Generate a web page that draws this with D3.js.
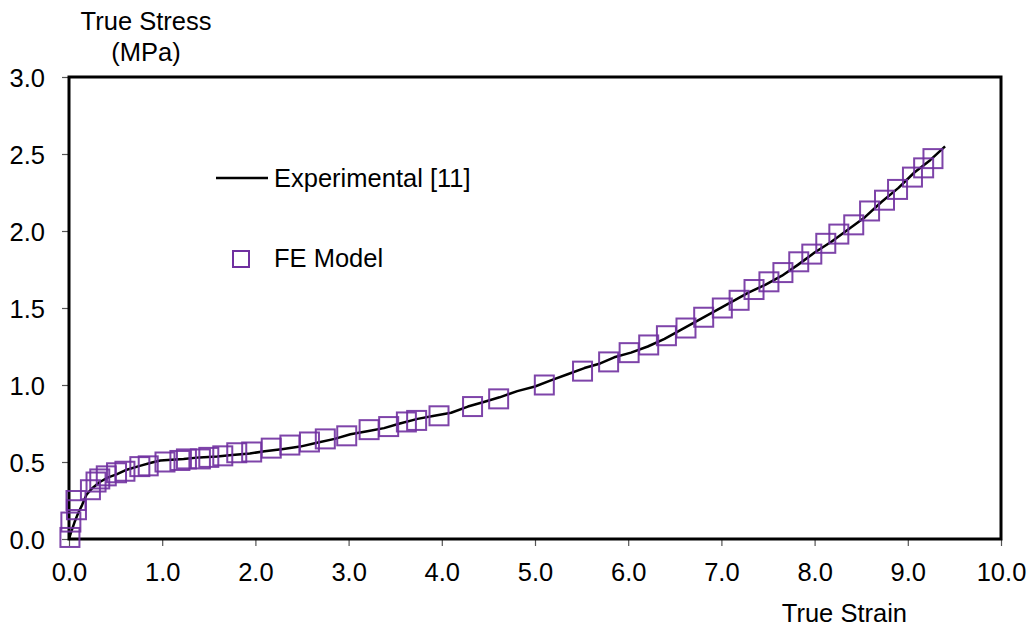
<!DOCTYPE html>
<html>
<head>
<meta charset="utf-8">
<script src="https://cdn.jsdelivr.net/npm/d3@7"></script>
<style>
  body { margin: 0; background: #fff; }
  text { font-family: "Liberation Sans", Arial, sans-serif; fill: #000; }
</style>
</head>
<body>
<div id="chart"></div>
<script>
// experimental curve (true strain, true stress)
var expStrain = [0, 0.02, 0.06, 0.1, 0.14, 0.19, 0.25, 0.33, 0.42, 0.51, 0.62, 0.76, 0.88, 0.98, 1.1, 1.23, 1.4, 1.59, 1.75, 1.94,
  2.1, 2.3, 2.48, 2.66, 2.85, 3.02, 3.2, 3.38, 3.55, 3.74, 3.92, 4.1, 4.28, 4.45, 4.62, 4.81, 5.0, 5.17, 5.35, 5.53,
  5.7, 5.85, 6.03, 6.21, 6.39, 6.57, 6.75, 6.93, 7.11, 7.29, 7.47, 7.65, 7.82, 8.0, 8.18, 8.36, 8.54, 8.72, 8.9, 9.07, 9.24, 9.4];
var expStress = [0, 0.04, 0.11, 0.17, 0.22, 0.29, 0.33, 0.37, 0.4, 0.42, 0.45, 0.475, 0.495, 0.51, 0.515, 0.52, 0.53, 0.535, 0.545, 0.555,
  0.57, 0.585, 0.6, 0.625, 0.65, 0.68, 0.7, 0.72, 0.75, 0.78, 0.8, 0.82, 0.86, 0.89, 0.92, 0.96, 0.99, 1.03, 1.07, 1.11,
  1.14, 1.18, 1.21, 1.25, 1.3, 1.36, 1.42, 1.48, 1.54, 1.6, 1.65, 1.71, 1.78, 1.86, 1.93, 2.01, 2.09, 2.19, 2.28, 2.38, 2.46, 2.55];

// FE model points
var feStrain = [0.01, 0.02, 0.08, 0.075, 0.23, 0.29, 0.33, 0.4, 0.51, 0.6, 0.76, 0.85, 1.03, 1.19, 1.26, 1.41, 1.5, 1.65, 1.8, 1.96,
  2.17, 2.37, 2.58, 2.75, 2.98, 3.22, 3.43, 3.62, 3.73, 3.97, 4.33, 4.61, 5.1, 5.51, 5.79, 6.01, 6.22, 6.41, 6.62, 6.81,
  7.01, 7.19, 7.35, 7.51, 7.66, 7.83, 7.97, 8.12, 8.26, 8.42, 8.59, 8.75, 8.89, 9.05, 9.17, 9.27];
var feStress = [0.01, 0.11, 0.19, 0.25, 0.32, 0.37, 0.39, 0.41, 0.43, 0.44, 0.47, 0.475, 0.5, 0.51, 0.52, 0.52, 0.53, 0.54, 0.56, 0.565,
  0.59, 0.61, 0.63, 0.65, 0.67, 0.71, 0.73, 0.76, 0.77, 0.8, 0.86, 0.91, 1.0, 1.09, 1.15, 1.21, 1.26, 1.32, 1.37, 1.44,
  1.5, 1.55, 1.62, 1.67, 1.73, 1.8, 1.85, 1.92, 1.98, 2.04, 2.13, 2.2, 2.27, 2.35, 2.41, 2.47];

var xTicks = [0, 1, 2, 3, 4, 5, 6, 7, 8, 9, 10];
var yTicks = [0, 0.5, 1, 1.5, 2, 2.5, 3];

var margin = {top: 77, right: 31, bottom: 94, left: 69};
var width = 1032 - margin.left - margin.right,
    height = 633 - margin.top - margin.bottom;

var fontSize = "25.5px";

var svg = d3.select("#chart").append("svg")
    .attr("width", 1032)
    .attr("height", 633)
  .append("g")
    .attr("transform", "translate(" + margin.left + "," + margin.top + ")");

var x = d3.scaleLinear().domain([0, 10]).range([0, width]),
    y = d3.scaleLinear().domain([0, 3]).range([height, 0]);

var fmt = d3.format(".1f");

// axes with outward ticks
var xAxis = svg.append("g")
    .attr("transform", "translate(0," + height + ")")
    .call(d3.axisBottom(x).tickValues(xTicks).tickSize(7).tickPadding(17).tickFormat(fmt));
var yAxis = svg.append("g")
    .call(d3.axisLeft(y).tickValues(yTicks).tickSize(7).tickPadding(17).tickFormat(fmt));

[xAxis, yAxis].forEach(function(a) {
  a.select(".domain").remove();
  a.selectAll(".tick line").attr("stroke", "#555").attr("stroke-width", 1.2);
  a.selectAll(".tick text")
    .style("font-family", '"Liberation Sans", Arial, sans-serif')
    .style("font-size", fontSize).attr("fill", "#000");
});
yAxis.selectAll(".tick text").attr("dy", "0.36em");

// frame
svg.append("rect")
    .attr("width", width).attr("height", height)
    .attr("fill", "none").attr("stroke", "#000").attr("stroke-width", 3);

// experimental line
var line = d3.line()
    .x(function(d) { return x(d[0]); })
    .y(function(d) { return y(d[1]); });

svg.append("path")
    .datum(d3.zip(expStrain, expStress))
    .attr("d", line)
    .attr("fill", "none")
    .attr("stroke", "#000")
    .attr("stroke-width", 2.5)
    .attr("stroke-linejoin", "round");

// FE markers
var sz = 19;
svg.selectAll(".fe")
    .data(d3.zip(feStrain, feStress))
  .enter().append("rect")
    .attr("class", "fe")
    .attr("x", function(d) { return x(d[0]) - sz / 2; })
    .attr("y", function(d) { return y(d[1]) - sz / 2; })
    .attr("width", sz).attr("height", sz)
    .attr("fill", "none")
    .attr("stroke", "#7030a0")
    .attr("stroke-opacity", 0.9)
    .attr("stroke-width", 2);

// legend + titles, in page coordinates
var leg = svg.append("g").attr("transform", "translate(" + (-margin.left) + "," + (-margin.top) + ")");
leg.append("line")
    .attr("x1", 216).attr("x2", 268).attr("y1", 178).attr("y2", 178)
    .attr("stroke", "#000").attr("stroke-width", 2.5);
leg.append("text").attr("x", 274).attr("y", 187).style("font-size", fontSize).text("Experimental [11]");
leg.append("rect")
    .attr("x", 233).attr("y", 251).attr("width", 16).attr("height", 16)
    .attr("fill", "none").attr("stroke", "#7030a0").attr("stroke-width", 2);
leg.append("text").attr("x", 274).attr("y", 267).style("font-size", fontSize).text("FE Model");

leg.append("text").attr("x", 146).attr("y", 30).attr("text-anchor", "middle")
    .style("font-size", fontSize).text("True Stress");
leg.append("text").attr("x", 146).attr("y", 61).attr("text-anchor", "middle")
    .style("font-size", fontSize).text("(MPa)");
leg.append("text").attr("x", 907).attr("y", 622).attr("text-anchor", "end")
    .style("font-size", fontSize).text("True Strain");
</script>
</body>
</html>
